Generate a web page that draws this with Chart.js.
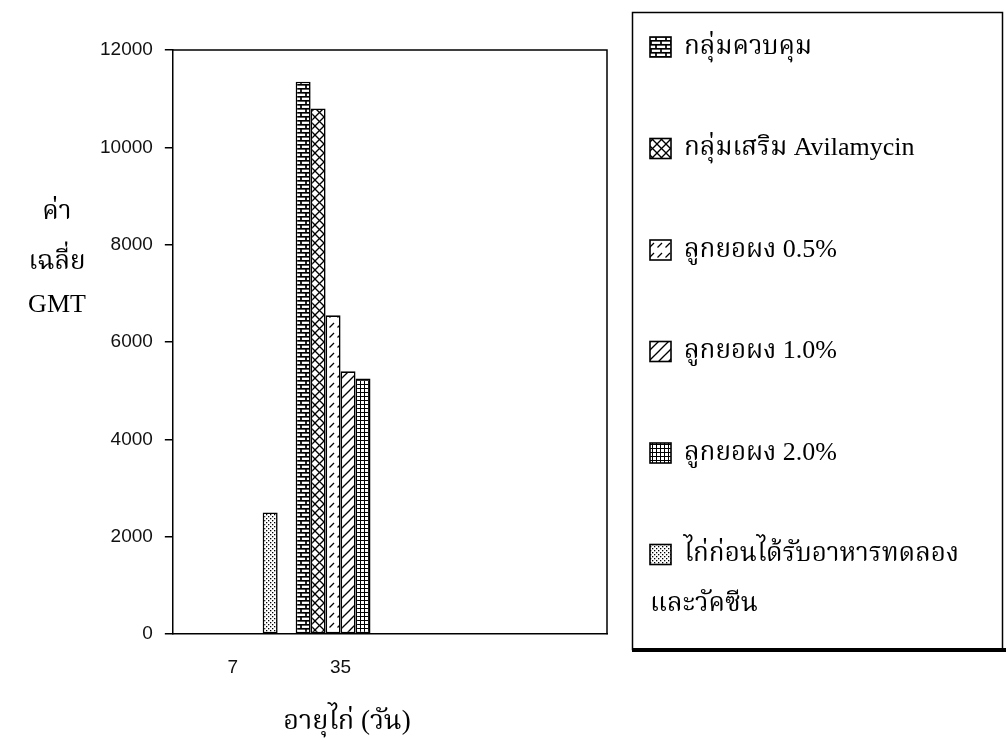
<!DOCTYPE html>
<html>
<head>
<meta charset="utf-8">
<script src="https://cdn.jsdelivr.net/npm/chart.js@4.4.1/dist/chart.umd.min.js"></script>
<style>
  html, body { margin: 0; padding: 0; background: #ffffff; }
  #wrap { position: relative; width: 1006px; height: 752px; }
</style>
</head>
<body>
<div id="wrap"><canvas id="c" width="1006" height="752"></canvas></div>
<script>
// ---------- data ----------
const categories = ['7', '35'];          // age of chickens (days)
const xTickValues = [7, 35];
const seriesLabels = [
  ['กลุ่มควบคุม'],
  ['กลุ่มเสริม Avilamycin'],
  ['ลูกยอผง 0.5%'],
  ['ลูกยอผง 1.0%'],
  ['ลูกยอผง 2.0%'],
  ['ไก่ก่อนได้รับอาหารทดลอง', 'และวัคซีน']
];
const controlValues    = [null, 11350];
const avilamycinValues = [null, 10800];
const noni05Values     = [null, 6550];
const noni10Values     = [null, 5400];
const noni20Values     = [null, 5250];
const preTrialValues   = [2500, null];
const yTickValues = [0, 2000, 4000, 6000, 8000, 10000, 12000];
const yTitleLines = ['ค่า', 'เฉลี่ย', 'GMT'];
const xTitle = 'อายุไก่ (วัน)';

// ---------- patterns ----------
function makePattern(w, h, draw) {
  const c = document.createElement('canvas');
  c.width = w; c.height = h;
  const g = c.getContext('2d');
  g.fillStyle = '#ffffff'; g.fillRect(0, 0, w, h);
  g.strokeStyle = '#000'; g.fillStyle = '#000';
  draw(g, w, h);
  return g.createPattern(c, 'repeat');
}
const line = (g, x1, y1, x2, y2) => { g.beginPath(); g.moveTo(x1, y1); g.lineTo(x2, y2); g.stroke(); };

const brick = makePattern(10, 8, (g) => {
  g.lineWidth = 1.7;
  line(g, 0, 0.8, 10, 0.8); line(g, 0, 4.8, 10, 4.8);
  line(g, 1, 0.8, 1, 4.8); line(g, 6, 4.8, 6, 8.8);
});
const cross = makePattern(9, 9, (g) => {
  g.lineWidth = 1.3;
  line(g, -1, -1, 10, 10); line(g, 10, -1, -1, 10);
});
const dashes = makePattern(8, 10, (g) => {
  g.lineWidth = 1.2;
  line(g, 1.5, 7.5, 6, 3);
});
const diag = makePattern(10, 10, (g) => {
  g.lineWidth = 1.3;
  line(g, -1, 11, 11, -1); line(g, -1, 1, 1, -1); line(g, 9, 11, 11, 9);
});
const grid = makePattern(4, 4, (g) => {
  g.lineWidth = 1;
  line(g, 0.5, 0, 0.5, 4); line(g, 0, 0.5, 4, 0.5);
});
const dots = makePattern(4, 4, (g) => {
  g.fillRect(0, 0, 1.3, 1.3); g.fillRect(2, 2, 1.3, 1.3);
});

const seriesValues = [controlValues, avilamycinValues, noni05Values, noni10Values, noni20Values, preTrialValues];
const seriesPatterns = [brick, cross, dashes, diag, grid, dots];

const thaiFont = '"Liberation Serif", "Noto Serif Thai", "Noto Sans Thai", "Garuda", "Loma", serif';

// ---------- plugins ----------
const framePlugin = {
  id: 'frame',
  afterDatasetsDraw(chart) {
    const { ctx, chartArea: a } = chart;
    ctx.save();
    ctx.strokeStyle = '#000'; ctx.lineWidth = 1.5;
    ctx.beginPath();
    ctx.moveTo(a.left, a.top); ctx.lineTo(a.right, a.top); ctx.lineTo(a.right, a.bottom);
    ctx.stroke();
    ctx.restore();
  }
};

const titlesPlugin = {
  id: 'titles',
  afterDraw(chart) {
    const ctx = chart.ctx;
    ctx.save();
    ctx.fillStyle = '#000';
    ctx.font = '26px ' + thaiFont;
    ctx.textAlign = 'center'; ctx.textBaseline = 'middle';
    const yPos = [212, 262, 305];
    yTitleLines.forEach((t, i) => ctx.fillText(t, 57, yPos[i]));
    ctx.font = '27px ' + thaiFont;
    ctx.fillText(xTitle, 347, 722);
    ctx.restore();
  }
};

const legendPlugin = {
  id: 'boxLegend',
  afterDraw(chart) {
    const ctx = chart.ctx;
    ctx.save();
    ctx.strokeStyle = '#000'; ctx.lineWidth = 1.5;
    ctx.strokeRect(632.5, 12.5, 370, 637);
    ctx.fillStyle = '#000';
    ctx.fillRect(632, 648, 374, 4);
    chart.data.datasets.forEach((ds, i) => {
      const yc = 47 + i * 101.5;
      ctx.fillStyle = ds.backgroundColor;
      ctx.fillRect(650, yc - 10, 21, 20);
      ctx.lineWidth = 1.6; ctx.strokeStyle = '#000';
      ctx.strokeRect(650, yc - 10, 21, 20);
      ctx.fillStyle = '#000';
      ctx.font = '26px ' + thaiFont;
      ctx.textAlign = 'left'; ctx.textBaseline = 'middle';
      ds.labelLines.forEach((ln, j) => ctx.fillText(ln, (j === 0 ? 684 : 650), yc + j * 50));
    });
    ctx.restore();
  }
};

// ---------- chart ----------
new Chart(document.getElementById('c'), {
  type: 'bar',
  data: {
    labels: categories,
    datasets: seriesLabels.map((lab, i) => ({
      label: lab.join(''),
      labelLines: lab,
      data: seriesValues[i],
      backgroundColor: seriesPatterns[i],
      borderColor: '#000',
      borderWidth: 1.6,
      borderSkipped: false,
      categoryPercentage: 0.833,
      barPercentage: 1.0
    }))
  },
  options: {
    responsive: false,
    animation: false,
    devicePixelRatio: 1,
    layout: { padding: { left: 88, top: 50, right: 399, bottom: 59 } },
    plugins: { legend: { display: false }, tooltip: { enabled: false } },
    scales: {
      x: {
        type: 'linear',
        offset: false,
        min: -8.56, max: 104.2,
        afterBuildTicks: (s) => { s.ticks = xTickValues.map(v => ({ value: v })); },
        grid: { display: false },
        border: { display: true, color: '#000', width: 1.5 },
        ticks: { color: '#111', font: { family: '"Liberation Sans", Arial, sans-serif', size: 19 }, padding: 14, maxRotation: 0, autoSkip: false,
                 callback: (v) => categories[xTickValues.indexOf(v)] ?? '' }
      },
      y: {
        min: 0, max: 12000,
        afterBuildTicks: (s) => { s.ticks = yTickValues.map(v => ({ value: v })); },
        grid: { drawOnChartArea: false, color: '#000', tickLength: 8, lineWidth: 1.5 },
        border: { display: true, color: '#000', width: 1.5 },
        ticks: { color: '#111', font: { family: '"Liberation Sans", Arial, sans-serif', size: 19 }, padding: 12,
                 callback: (v) => String(v) }
      }
    }
  },
  plugins: [framePlugin, titlesPlugin, legendPlugin]
});
</script>
</body>
</html>
